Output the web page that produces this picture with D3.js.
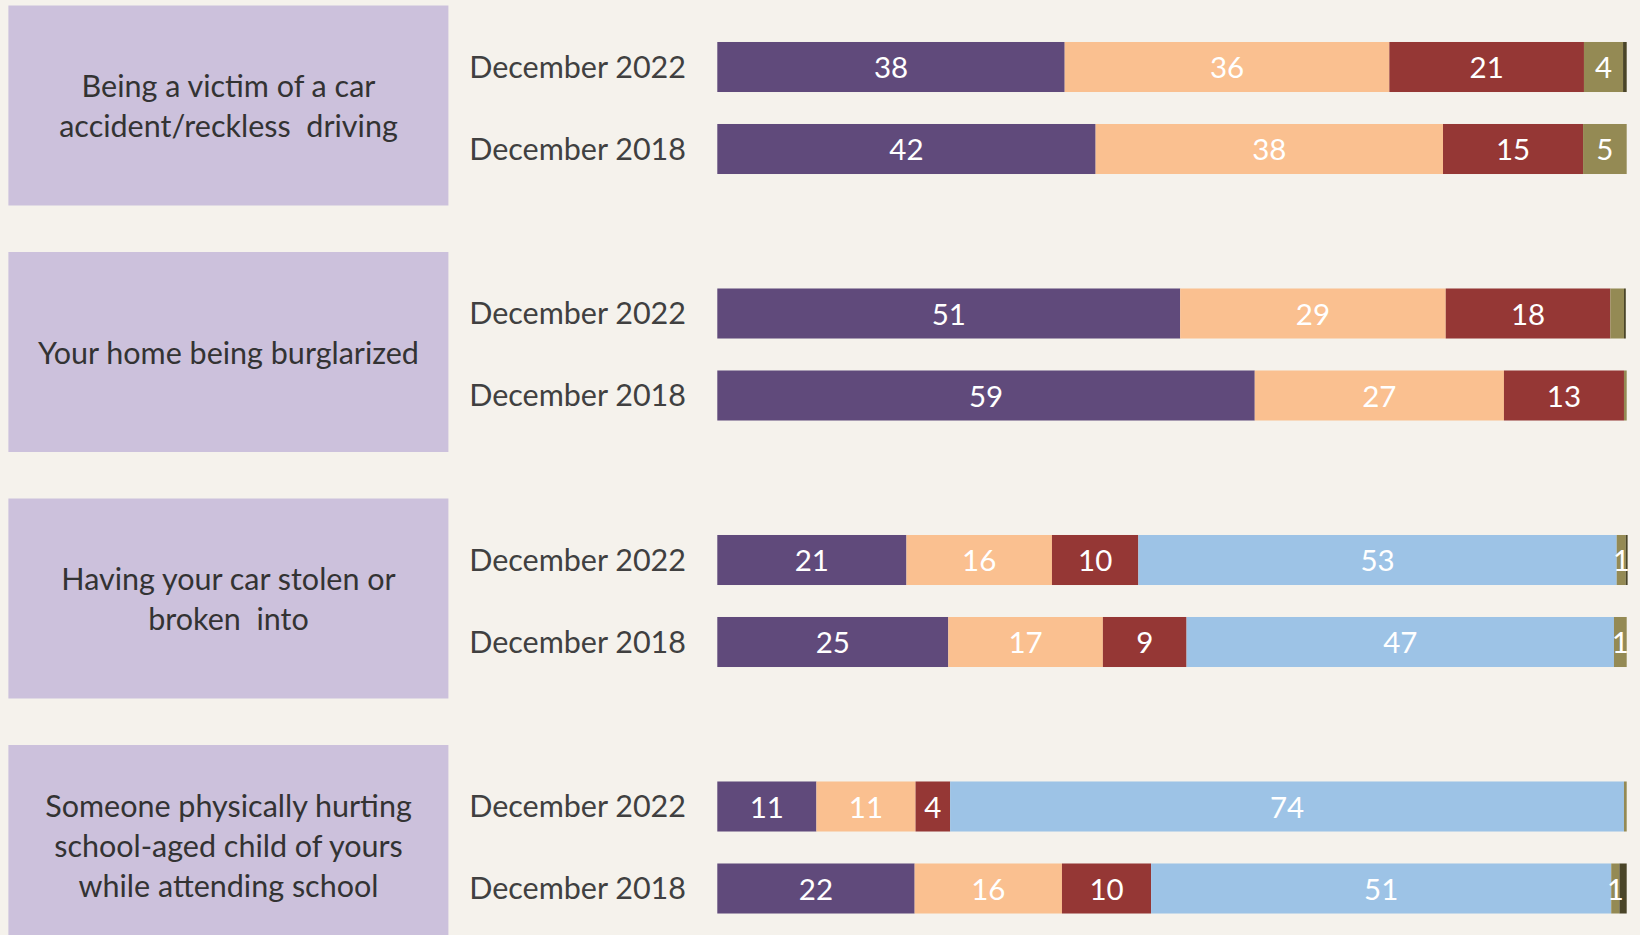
<!DOCTYPE html>
<html>
<head>
<meta charset="utf-8">
<script src="https://cdn.jsdelivr.net/npm/d3@7"></script>
<style>
  body { margin: 0; background: #f5f2ec; }
  svg { display: block; }
</style>
</head>
<body>
<svg class="chart" width="1640" height="935"></svg>
<script>
// topic boxes on the left
let categories = [
  ["Being a victim of a car", "accident/reckless  driving"],
  ["Your home being burglarized"],
  ["Having your car stolen or", "broken  into"],
  ["Someone physically hurting", "school-aged child of yours", "while attending school"]
];
let years = ["December 2022", "December 2018"];

// one value per bar, bars go topic by topic, 2022 then 2018
let purpleVals = [38.2, 41.6, 50.9, 59.1, 20.8, 25.4, 10.9, 21.7];
let peachVals  = [35.7, 38.2, 29.2, 27.4, 16.0, 17.0, 10.9, 16.2];
let redVals    = [21.4, 15.4, 18.1, 13.2, 9.5, 9.2, 3.8, 9.8];
let blueVals   = [0, 0, 0, 0, 52.6, 47.0, 74.1, 50.6];
let oliveVals  = [4.3, 4.8, 1.5, 0.3, 1.0, 1.4, 0.3, 0.9];
let darkVals   = [0.4, 0, 0.2, 0, 0.2, 0, 0, 0.8];

// printed numbers (null = not printed)
let purpleLabels = [38, 42, 51, 59, 21, 25, 11, 22];
let peachLabels  = [36, 38, 29, 27, 16, 17, 11, 16];
let redLabels    = [21, 15, 18, 13, 10, 9, 4, 10];
let blueLabels   = [null, null, null, null, 53, 47, 74, 51];
let oliveLabels  = [4, 5, null, null, 1, 1, null, 1];
let darkLabels   = [null, null, null, null, null, null, null, null];

let seriesColors = ["#604a7b", "#fac090", "#953735", "#9dc3e6", "#948a54", "#4a4528"];

let series = [
  {vals: purpleVals, labels: purpleLabels},
  {vals: peachVals, labels: peachLabels},
  {vals: redVals, labels: redLabels},
  {vals: blueVals, labels: blueLabels},
  {vals: oliveVals, labels: oliveLabels},
  {vals: darkVals, labels: darkLabels}
];

let svg = d3.select("body").select(".chart");
let font = "Lato, 'Open Sans', sans-serif";

// scales
let groupScale = d3.scaleBand()
  .domain(d3.range(categories.length))
  .range([-15.25, 970.75]);
let yearScale = d3.scaleBand()
  .domain(years)
  .range([-82, 82])
  .paddingInner(0.39)
  .paddingOuter(0.195);
let xScale = d3.scaleLinear()
  .domain([0, 100])
  .range([717.3, 1626.7]);

// build stacked segments
let segments = [];
categories.forEach(function(cat, g) {
  years.forEach(function(yr, j) {
    let i = g * years.length + j;
    let x0 = 0;
    series.forEach(function(s, k) {
      let v = s.vals[i];
      if (v > 0) {
        segments.push({group: g, year: yr, start: x0, end: x0 + v, color: seriesColors[k], label: s.labels[i]});
      }
      x0 += v;
    });
  });
});

function groupCenter(g) {
  return groupScale(g) + groupScale.bandwidth() / 2;
}

// topic boxes
let boxes = svg.append("g").attr("id", "boxes");
categories.forEach(function(lines, g) {
  let cy = groupCenter(g) - 2.5;
  boxes.append("rect")
    .attr("x", 8.4)
    .attr("y", cy - 100)
    .attr("width", 440)
    .attr("height", 200)
    .attr("fill", "#ccc1dc");
  let lineH = 40;
  lines.forEach(function(line, n) {
    boxes.append("text")
      .attr("x", 228.5)
      .attr("y", cy + 1 + (n - (lines.length - 1) / 2) * lineH)
      .attr("dy", "0.35em")
      .attr("text-anchor", "middle")
      .style("font-family", font)
      .style("font-size", "30.5px")
      .style("fill", "#333333")
      .style("white-space", "pre")
      .text(line);
  });
});

// year labels
let yearG = svg.append("g").attr("id", "year-labels");
categories.forEach(function(c, g) {
  years.forEach(function(yr) {
    yearG.append("text")
      .attr("x", 686)
      .attr("y", groupCenter(g) + yearScale(yr) + yearScale.bandwidth() / 2)
      .attr("dy", "0.35em")
      .attr("text-anchor", "end")
      .style("font-family", font)
      .style("font-size", "30.5px")
      .style("fill", "#404040")
      .text(yr);
  });
});

// bars
let plot = svg.append("g").attr("id", "plot");
plot.selectAll(".seg")
  .data(segments)
  .enter().append("rect")
  .attr("class", "seg")
  .attr("x", d => xScale(d.start))
  .attr("width", d => xScale(d.end) - xScale(d.start))
  .attr("y", d => groupCenter(d.group) + yearScale(d.year))
  .attr("height", yearScale.bandwidth())
  .attr("fill", d => d.color);

plot.selectAll(".seg-label")
  .data(segments.filter(d => d.label != null))
  .enter().append("text")
  .attr("class", "seg-label")
  .attr("x", d => (xScale(d.start) + xScale(d.end)) / 2)
  .attr("y", d => groupCenter(d.group) + yearScale(d.year) + yearScale.bandwidth() / 2)
  .attr("dy", "0.38em")
  .attr("text-anchor", "middle")
  .style("font-family", font)
  .style("font-size", "29.5px")
  .style("fill", "#ffffff")
  .text(d => d.label);
</script>
</body>
</html>
